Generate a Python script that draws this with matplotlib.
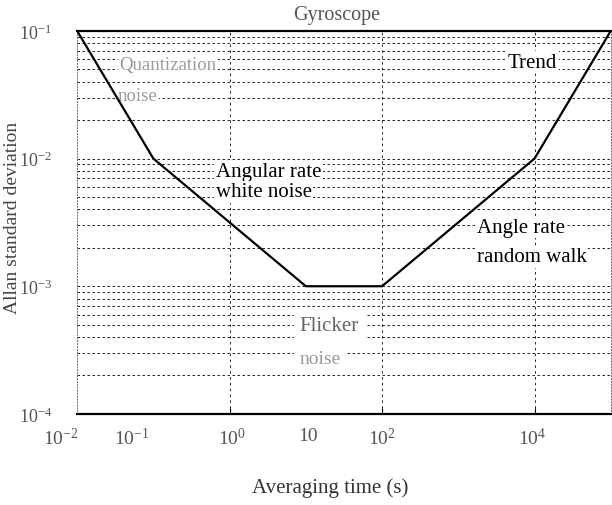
import numpy as np
import matplotlib
matplotlib.use("Agg")
import matplotlib.pyplot as plt
from matplotlib.ticker import LogLocator, NullFormatter

# Allan deviation asymptotes (gyroscope)
tau = [1e-2, 1e-1, 1e1, 1e2, 1e4, 1e5]
sigma = [1e-1, 1e-2, 1e-3, 1e-3, 1e-2, 1e-1]

# tick labels as printed in the figure (label positions in log10 of tau)
xlab_pos = [-2.22, -1.28, 0.03, 1.03, 2.0, 3.97]
xlab_txt = [r"$10^{-2}$", r"$10^{-1}$", r"$10^{0}$", "10", r"$10^{2}$", r"$10^{4}$"]
xgrid = [1e0, 1e2, 1e4]
yticks = [1e-4, 1e-3, 1e-2, 1e-1]
ylab_txt = [r"$10^{-4}$", r"$10^{-3}$", r"$10^{-2}$", r"$10^{-1}$"]

plt.rcParams["font.family"] = ["Liberation Serif", "DejaVu Serif"]
plt.rcParams["mathtext.fontset"] = "custom"
plt.rcParams["mathtext.rm"] = "Liberation Serif"
plt.rcParams["mathtext.it"] = "Liberation Serif:italic"

fig = plt.figure(figsize=(6.12, 5.06), dpi=100)
ax = fig.add_axes([0.126, 0.18, 0.872, 0.757])
ax.set_xscale("log")
ax.set_yscale("log")
ax.set_xlim(1e-2, 1e5)
ax.set_ylim(1e-4, 1e-1)

# horizontal dashed grid on every minor decade step
ax.yaxis.set_minor_locator(LogLocator(base=10, subs=np.arange(2, 10)))
ax.yaxis.set_minor_formatter(NullFormatter())
ax.grid(True, which="both", axis="y", color="black", linestyle=(0, (3, 3)), linewidth=0.6)
for xg in xgrid:
    ax.axvline(xg, color="black", linestyle=(0, (3, 4)), linewidth=0.6, zorder=1)

ax.plot(tau, sigma, color="black", linewidth=1.6, zorder=5)

ax.set_xticks(xgrid)
ax.set_xticklabels([])
ax.tick_params(axis="x", which="both", direction="in", length=4, width=0.8)
ax.xaxis.set_minor_locator(plt.NullLocator())
for p, t in zip(xlab_pos, xlab_txt):
    ax.text(10 ** p, -0.035, t, transform=ax.get_xaxis_transform(), ha="center", va="top",
            fontsize=14, color="#555555")

ax.set_yticks(yticks)
ax.set_yticklabels(ylab_txt, fontsize=13, color="#555555")
ax.tick_params(axis="y", which="both", length=0, pad=18)

for s in ["top", "bottom"]:
    ax.spines[s].set_linewidth(1.6)
for s in ["left", "right"]:
    ax.spines[s].set_linestyle((0, (1, 2)))
    ax.spines[s].set_linewidth(0.7)
    ax.spines[s].set_color("#666666")

box = dict(facecolor="white", edgecolor="none", pad=1)
ax.text(0.036, 0.055, "Quantization", fontsize=13.5, color="#9a9a9a", va="center", bbox=box)
ax.text(0.034, 0.031, "noise", fontsize=13.5, color="#9a9a9a", va="center", bbox=box)
ax.text(0.66, 0.0079, "Angular rate", fontsize=15, va="center", bbox=box)
ax.text(0.66, 0.0055, "white noise", fontsize=15, va="center", bbox=box)
ax.text(8.3, 0.00049, "Flicker", fontsize=15, color="#666666", va="center",
        bbox=dict(facecolor="white", edgecolor="none", pad=4))
ax.text(8.3, 0.00027, "noise", fontsize=14, color="#9a9a9a", va="center",
        bbox=dict(facecolor="white", edgecolor="none", pad=4))
ax.text(4.5e3, 0.057, "Trend", fontsize=15, va="center", bbox=box)
ax.text(1.74e3, 0.0029, "Angle rate", fontsize=15, va="center", bbox=box)
ax.text(1.74e3, 0.0017, "random walk", fontsize=15, va="center", bbox=box)

fig.text(0.55, 0.970, "Gyroscope", ha="center", va="center", fontsize=14.5, color="#555555")
fig.text(0.539, 0.036, "Averaging time (s)", ha="center", va="center", fontsize=15, color="#333333")
fig.text(0.021, 0.569, "Allan standard deviation", ha="center", va="center", rotation=90,
         fontsize=14, color="#444444")

fig.savefig("out.png", dpi=100)
